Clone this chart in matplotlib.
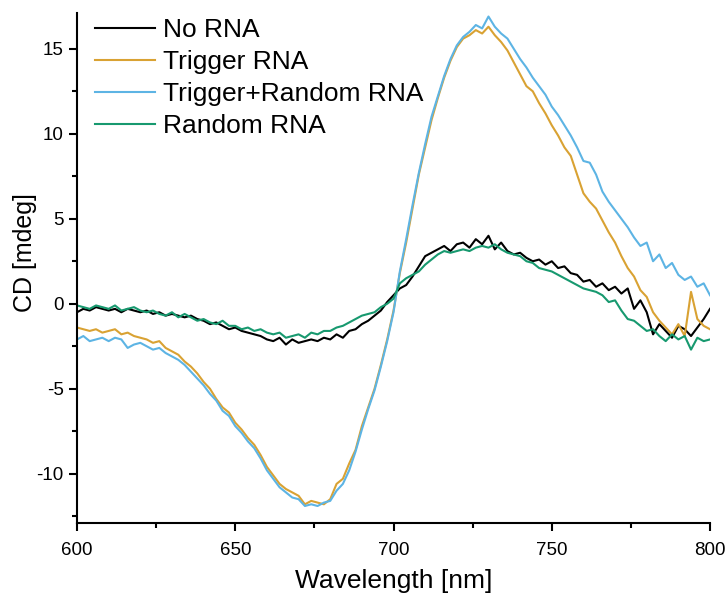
import numpy as np
import matplotlib
matplotlib.use('Agg')
import matplotlib.pyplot as plt
from matplotlib.ticker import MultipleLocator

plt.rcParams['font.family'] = ['Liberation Sans', 'DejaVu Sans']
plt.rcParams['axes.unicode_minus'] = False

# wavelength grid, 2 nm steps from 600 to 800 nm
wavelength = np.arange(600, 801, 2)

no_rna = [
    -0.5, -0.3, -0.4, -0.2, -0.3, -0.4, -0.3, -0.5, -0.3, -0.4, -0.5,
    -0.4, -0.6, -0.5, -0.7, -0.6, -0.7, -0.8, -0.7, -0.9, -1.0,
    -1.2, -1.1, -1.3, -1.5, -1.4, -1.6, -1.7, -1.8, -1.9, -2.1,
    -2.2, -2.0, -2.4, -2.1, -2.3, -2.2, -2.1, -2.2, -2.0, -2.1,
    -1.8, -2.0, -1.6, -1.5, -1.2, -1.0, -0.7, -0.4, 0.1, 0.5,
    0.9, 1.1, 1.6, 2.2, 2.8, 3.0, 3.2, 3.4, 3.1, 3.5,
    3.6, 3.3, 3.8, 3.5, 4.0, 3.2, 3.6, 3.1, 2.9, 3.0,
    2.7, 2.5, 2.6, 2.3, 2.5, 2.1, 2.2, 1.8, 1.7, 1.3,
    1.4, 1.0, 1.2, 0.8, 1.0, 0.6, 0.9, -0.3, 0.2, -0.5,
    -1.8, -1.2, -1.6, -2.0, -1.3, -1.5, -1.9, -1.4, -0.9, -0.3,
]

trigger = [
    -1.4, -1.5, -1.6, -1.5, -1.7, -1.6, -1.5, -1.8, -1.7, -1.9, -2.0,
    -2.1, -2.3, -2.2, -2.6, -2.8, -3.0, -3.4, -3.7, -4.1, -4.6,
    -5.0, -5.6, -6.1, -6.4, -7.0, -7.4, -7.9, -8.3, -8.9, -9.6,
    -10.1, -10.6, -10.9, -11.1, -11.3, -11.8, -11.6, -11.7, -11.8, -11.5,
    -10.6, -10.3, -9.4, -8.6, -7.2, -6.1, -5.0, -3.6, -2.1, -0.4,
    1.8, 3.6, 5.6, 7.6, 9.2, 10.8, 12.1, 13.3, 14.3, 15.1,
    15.6, 15.8, 16.1, 15.9, 16.3, 15.8, 15.4, 14.9, 14.2, 13.5,
    12.8, 12.5, 11.8, 11.2, 10.5, 9.9, 9.2, 8.7, 7.6, 6.5,
    6.0, 5.6, 4.9, 4.2, 3.6, 2.8, 2.1, 1.6, 0.8, 0.4,
    -0.5, -1.0, -1.4, -1.8, -1.2, -1.9, 0.7, -0.9, -1.3, -1.5,
]

trigger_random = [
    -2.1, -1.9, -2.2, -2.1, -2.0, -2.2, -2.0, -2.1, -2.6, -2.4, -2.3,
    -2.5, -2.7, -2.6, -2.9, -3.1, -3.3, -3.6, -4.0, -4.4, -4.8,
    -5.3, -5.7, -6.3, -6.6, -7.2, -7.6, -8.1, -8.5, -9.1, -9.8,
    -10.3, -10.8, -11.1, -11.4, -11.5, -11.9, -11.8, -11.9, -11.7, -11.6,
    -11.0, -10.6, -9.8, -8.7, -7.4, -6.2, -5.1, -3.7, -2.2, -0.5,
    1.9, 3.8, 5.8, 7.7, 9.4, 11.0, 12.2, 13.4, 14.4, 15.2,
    15.7, 16.0, 16.4, 16.2, 16.9, 16.3, 15.9, 15.6, 15.0, 14.4,
    13.9, 13.3, 12.8, 12.3, 11.6, 11.1, 10.5, 9.9, 9.2, 8.4,
    8.3, 7.6, 6.6, 6.0, 5.5, 5.0, 4.5, 3.9, 3.4, 3.6,
    2.5, 2.9, 2.1, 2.4, 1.7, 1.4, 1.6, 1.0, 1.2, 0.5,
]

random_rna = [
    -0.1, -0.2, -0.3, -0.1, -0.2, -0.3, -0.1, -0.4, -0.3, -0.2, -0.4,
    -0.5, -0.4, -0.6, -0.7, -0.5, -0.8, -0.6, -0.8, -1.0, -0.9,
    -1.1, -1.2, -1.0, -1.3, -1.3, -1.5, -1.4, -1.6, -1.5, -1.7,
    -1.8, -1.7, -2.0, -1.9, -1.8, -2.0, -1.7, -1.8, -1.6, -1.6,
    -1.4, -1.3, -1.1, -0.9, -0.7, -0.6, -0.5, -0.2, 0.0, 0.3,
    1.2, 1.5, 1.7, 1.9, 2.3, 2.6, 2.9, 3.1, 3.0, 3.1,
    3.2, 3.1, 3.3, 3.4, 3.3, 3.5, 3.2, 3.0, 2.9, 2.8,
    2.5, 2.4, 2.1, 2.0, 1.9, 1.7, 1.5, 1.3, 1.1, 0.9,
    0.8, 0.7, 0.5, 0.1, 0.2, -0.4, -0.9, -1.0, -1.3, -1.6,
    -1.5, -1.9, -2.2, -1.8, -2.1, -1.9, -2.7, -2.0, -2.2, -2.1,
]

labels = ['No RNA', 'Trigger RNA', 'Trigger+Random RNA', 'Random RNA']
colors = ['#000000', '#D9A233', '#5DB4E4', '#17996F']

fig = plt.figure(figsize=(7.28, 5.96), dpi=100)
ax = fig.add_axes([0.1058, 0.1225, 0.8695, 0.8555])

for series, label, color in zip([no_rna, trigger, trigger_random, random_rna], labels, colors):
    ax.plot(wavelength, series, color=color, lw=1.5, label=label)

ax.set_xlim(600, 800)
ax.set_ylim(-12.9, 17.1)
ax.xaxis.set_major_locator(MultipleLocator(50))
ax.xaxis.set_minor_locator(MultipleLocator(25))
ax.yaxis.set_major_locator(MultipleLocator(5))
ax.yaxis.set_minor_locator(MultipleLocator(2.5))

for side in ['top', 'right']:
    ax.spines[side].set_visible(False)
for side in ['left', 'bottom']:
    ax.spines[side].set_linewidth(1.5)

ax.tick_params(which='major', direction='out', length=6, width=1.5, labelsize=13.5)
ax.tick_params(axis='x', which='major', pad=8)
ax.tick_params(which='minor', direction='out', length=3.5, width=1.5)

ax.set_xlabel('Wavelength [nm]', fontsize=19)
ax.xaxis.set_label_coords(0.5, -0.09)
ax.set_ylabel('CD [mdeg]', fontsize=18)
ax.yaxis.set_label_coords(-0.063, 0.531)

ax.legend(loc='upper left', bbox_to_anchor=(0.028, 0.99), frameon=False, fontsize=19,
          borderpad=0, borderaxespad=0, handlelength=2.27, handletextpad=0.3,
          labelspacing=0.3)

plt.savefig('out.png', dpi=100)
